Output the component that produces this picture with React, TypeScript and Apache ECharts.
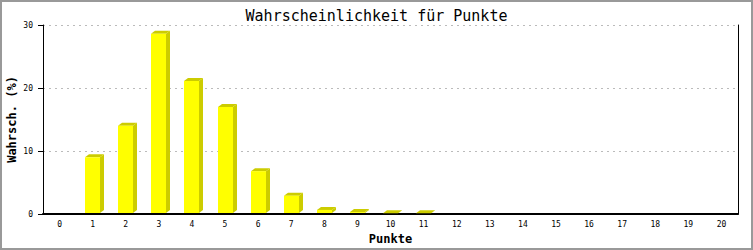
import React, { useEffect, useRef } from "react";
import * as echarts from "echarts";

const categories = ["0","1","2","3","4","5","6","7","8","9","10","11","12","13","14","15","16","17","18","19","20"];
const values = [0, 9.0, 14.0, 28.6, 21.1, 17.0, 6.8, 2.9, 0.65, 0.3, 0.12, 0.1, 0, 0, 0, 0, 0, 0, 0, 0, 0];
const yTicks = { min: 0, max: 30, interval: 10 };
const titleText = "Wahrscheinlichkeit für Punkte";
const xName = "Punkte";
const yName = "Wahrsch. (%)";

export default function App() {
  const ref = useRef<HTMLDivElement>(null);
  useEffect(() => {
    if (!ref.current) return;
    const chart = echarts.init(ref.current, null, { renderer: "svg" });
    const mono = "DejaVu Sans Mono";
    chart.setOption({
      animation: false,
      backgroundColor: "#ffffff",
      title: {
        text: titleText,
        left: "center",
        top: 3,
        textStyle: { fontFamily: mono, fontSize: 15, fontWeight: "normal", color: "#000" },
      },
      grid: { left: 43, right: 15, top: 25, bottom: 36, containLabel: false, outerBoundsMode: "none" },
      xAxis: {
        type: "category",
        data: categories,
        boundaryGap: true,
        name: xName,
        nameLocation: "middle",
        nameGap: 19,
        nameTextStyle: { fontFamily: mono, fontSize: 12, fontWeight: "bold", color: "#000" },
        axisLine: { lineStyle: { color: "#000", width: 2 } },
        axisTick: { show: false },
        axisLabel: { fontFamily: mono, fontSize: 8, color: "#000", margin: 6, interval: 0 },
        splitLine: { show: false },
      },
      yAxis: [
        {
          type: "value",
          min: yTicks.min,
          max: yTicks.max,
          interval: yTicks.interval,
          name: yName,
          nameLocation: "middle",
          nameGap: 25,
          nameRotate: 90,
          nameMoveOverlap: false,
          nameTextStyle: { fontFamily: mono, fontSize: 12, fontWeight: "bold", color: "#000" },
          axisLine: { show: true, lineStyle: { color: "#000", width: 1 } },
          axisTick: { show: true, length: 5, lineStyle: { color: "#000" } },
          axisLabel: { fontFamily: mono, fontSize: 8, color: "#000", margin: 10 },
          splitLine: { show: true, lineStyle: { color: "#bbbbbb", type: [2, 4], width: 1 } },
        },
        {
          type: "value",
          min: yTicks.min,
          max: yTicks.max,
          interval: yTicks.interval,
          position: "right",
          axisLine: { show: true, lineStyle: { color: "#000", width: 1 } },
          axisTick: { show: false },
          axisLabel: { show: false },
          splitLine: { show: false },
        },
      ],
      series: [
        {
          type: "custom",
          data: values.map((v, i) => [i, v]),
          encode: { x: 0, y: 1 },
          renderItem: (params: any, api: any) => {
            const v = api.value(1);
            if (!v) return null;
            const x = api.value(0);
            const top = api.coord([x, v]);
            const base = api.coord([x, 0]);
            const band = api.size([1, 0])[0];
            const w = Math.round(band * 0.46);
            const left = Math.round(top[0] - w / 2);
            const right = left + w;
            const yTop = top[1];
            const yBase = base[1] - 1;
            const dx = 4;
            const dy = 3;
            return {
              type: "group",
              children: [
                {
                  type: "polygon",
                  shape: { points: [[right, yTop], [right + dx, yTop - dy], [right + dx, yBase - dy], [right, yBase]] },
                  style: { fill: "#cccc00" },
                },
                {
                  type: "polygon",
                  shape: { points: [[left, yTop], [left + dx, yTop - dy], [right + dx, yTop - dy], [right, yTop]] },
                  style: { fill: "#cccc00" },
                },
                {
                  type: "rect",
                  shape: { x: left, y: yTop, width: w, height: Math.max(0, yBase - yTop) },
                  style: { fill: "#ffff00" },
                },
              ],
            };
          },
        },
      ],
      graphic: [
        {
          type: "rect",
          shape: { x: 1, y: 1, width: 751, height: 248 },
          style: { fill: "none", stroke: "#999999", lineWidth: 2 },
          silent: true,
        },
      ],
    });
    return () => chart.dispose();
  }, []);
  return <div ref={ref} style={{ position: "fixed", left: 0, top: 0, width: 753, height: 250 }} />;
}
